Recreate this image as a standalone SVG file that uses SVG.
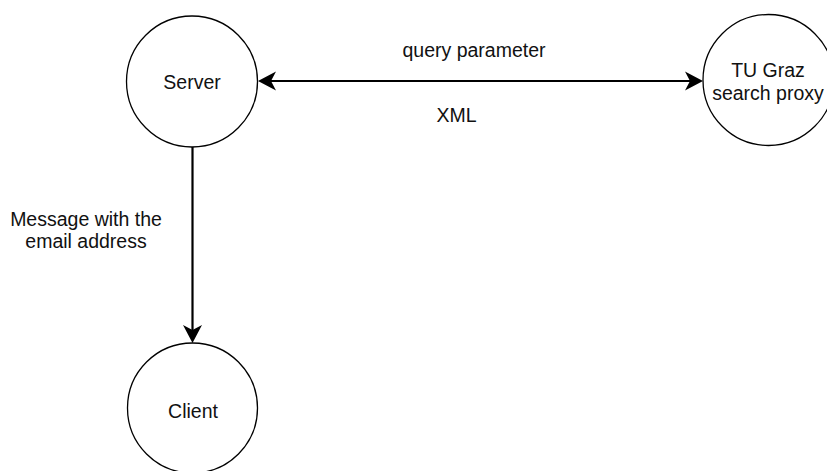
<svg xmlns="http://www.w3.org/2000/svg" width="827" height="471" viewBox="0 0 827 471">
  <style>
    .node { fill: #ffffff; stroke: #000000; stroke-width: 1.3; }
    .label { font-family: "Liberation Sans", Helvetica, Arial, sans-serif; font-size: 19.5px; fill: #111111; text-anchor: middle; }
    .edge { fill: none; stroke: #000000; stroke-width: 2.2; }
  </style>
  <defs>
    <!-- classic notched arrowhead; the reference point is the notch -->
    <marker id="arrow" viewBox="-6 -11 20 22" markerWidth="20" markerHeight="22" refX="0" refY="0" orient="auto-start-reverse" markerUnits="userSpaceOnUse">
      <path d="M13,0 L-5,-9.5 L0,0 L-5,9.5 Z" fill="#000000"/>
    </marker>
  </defs>

  <rect width="827" height="471" fill="#ffffff"/>

  <g id="connectors">
    <path class="edge" d="M271,81 L690,81" marker-start="url(#arrow)" marker-end="url(#arrow)"/>
    <path class="edge" d="M192.5,147 L192.5,330" marker-end="url(#arrow)"/>
    <text class="label" x="474" y="56.5">query parameter</text>
    <text class="label" x="456.5" y="121.5">XML</text>
    <text class="label" x="86" y="226">Message with the</text>
    <text class="label" x="86" y="248">email address</text>
  </g>

  <g id="server">
    <circle class="node" cx="192" cy="81.5" r="65.5"/>
    <text class="label" x="192" y="89">Server</text>
  </g>

  <g id="tu-graz-search-proxy">
    <circle class="node" cx="768.5" cy="80" r="65.5"/>
    <text class="label" x="768" y="77">TU Graz</text>
    <text class="label" x="768" y="100">search proxy</text>
  </g>

  <g id="client">
    <circle class="node" cx="192.5" cy="408" r="65"/>
    <text class="label" x="193" y="418">Client</text>
  </g>
</svg>
